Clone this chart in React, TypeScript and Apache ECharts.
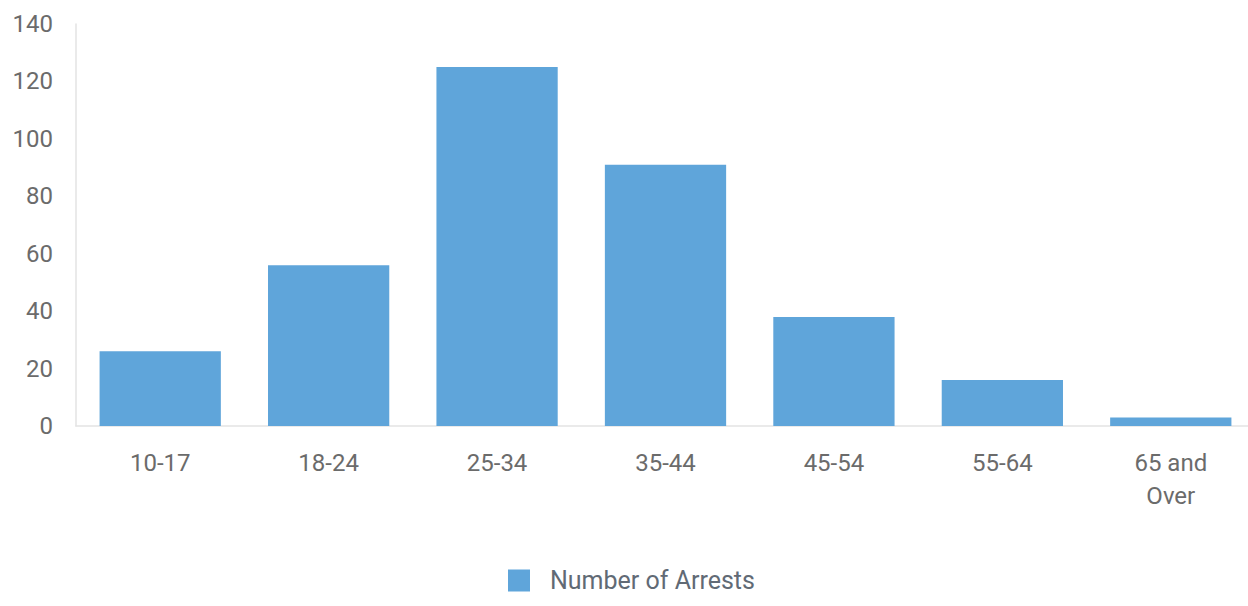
import React, { useEffect, useRef } from "react";
import * as echarts from "echarts";

const categories = ["10-17", "18-24", "25-34", "35-44", "45-54", "55-64", "65 and Over"];
const arrests = [26, 56, 125, 91, 38, 16, 3];
const seriesName = "Number of Arrests";

export default function App() {
  const ref = useRef<HTMLDivElement>(null);
  useEffect(() => {
    if (!ref.current) return;
    const chart = echarts.init(ref.current, null, { renderer: "svg" });
    chart.setOption({
      animation: false,
      textStyle: { fontFamily: "Roboto" },
      grid: { left: 76, right: 0, top: 24, bottom: 180, containLabel: false },
      legend: {
        top: 568,
        left: 508,
        padding: 0,
        itemWidth: 22,
        itemHeight: 22,
        icon: "rect",
        textStyle: {
          fontSize: 25,
          lineHeight: 22,
          color: "#616a75",
          fontFamily: "Roboto",
          padding: [0, 0, 0, 15],
        },
        data: [seriesName],
      },
      xAxis: {
        type: "category",
        data: categories,
        axisLine: { show: true, lineStyle: { color: "#e3e3e3", width: 1.5 } },
        axisTick: { show: false },
        axisLabel: {
          fontSize: 24,
          color: "#6b6b6b",
          margin: 20,
          lineHeight: 33,
          formatter: (v: string) => v.replace("65 and ", "65 and\n"),
        },
      },
      yAxis: {
        type: "value",
        min: 0,
        max: 140,
        interval: 20,
        axisLine: { show: true, lineStyle: { color: "#e3e3e3", width: 1.5 } },
        axisTick: { show: false },
        splitLine: { show: false },
        axisLabel: { fontSize: 24, color: "#6b6b6b", margin: 23 },
      },
      series: [
        {
          name: seriesName,
          type: "bar",
          data: arrests,
          barCategoryGap: "28%",
          itemStyle: { color: "#5fa5da" },
        },
      ],
    });
    return () => chart.dispose();
  }, []);
  return (
    <div
      style={{
        position: "fixed",
        left: 0,
        top: 0,
        width: 1248,
        height: 606,
        overflow: "hidden",
        background: "#fff",
      }}
    >
      <div ref={ref} style={{ width: 1255, height: 606 }} />
    </div>
  );
}
